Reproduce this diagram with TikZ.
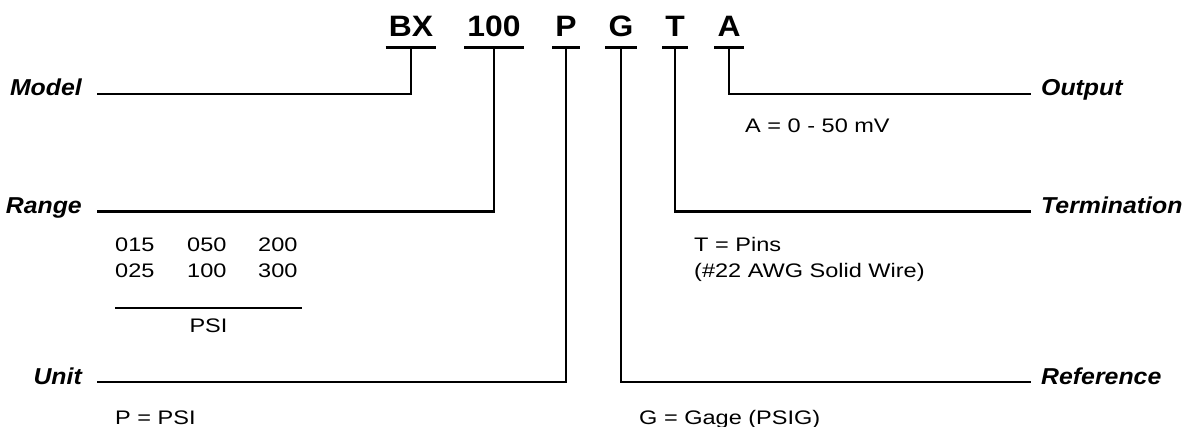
\documentclass[tikz,border=0pt]{standalone}
\usepackage{fontspec}
\setmainfont[FakeStretch=1.08]{Liberation Sans}
\newfontfamily\infofont[FakeStretch=1.2]{Liberation Sans}
\usepackage{tikz}
\usetikzlibrary{positioning}

\begin{document}
\begin{tikzpicture}[x=1pt, y=-1pt,
                    code/.style={font=\fontsize{29.5}{34}\selectfont\bfseries, inner xsep=3pt, inner ysep=10pt, text depth=0pt, anchor=base},
                    lbl/.style={font=\fontsize{23}{27}\selectfont\bfseries\itshape, inner sep=0pt},
                    info/.style={font=\infofont\fontsize{19.6}{24}\selectfont, inner sep=0pt, anchor=base west},
                    lead/.style={line width=2.8pt, black},
                    rule/.style={line width=1.3pt, black},
                   ]

\useasboundingbox (0,0) rectangle (1185,427);

% code letters
\node[code] (codeBX)  at (411,37) {BX};
\node[code] (code100) at (494,37) {100};
\node[code] (codeP)   at (566,37) {P};
\node[code] (codeG)   at (621,37) {G};
\node[code] (codeT)   at (675,37) {T};
\node[code] (codeA)   at (729,37) {A};

\foreach \c in {BX,100,P,G,T,A}
  \draw[lead] (code\c.south west) -- (code\c.south east);

% left labels
\node[lbl, anchor=base east] (lblModel) at (82,96) {Model};
\node[lbl, anchor=base east] (lblRange) at (82,213.5) {Range};
\node[lbl, anchor=base east] (lblUnit)  at (82,384) {Unit};

% right labels
\node[lbl, anchor=base west] (lblOutput) at (1041,96) {Output};
\node[lbl, anchor=base west] (lblTerm)   at (1041,213.5) {Termination};
\node[lbl, anchor=base west] (lblRef)    at (1041,384) {Reference};

\draw[lead] ([xshift=15pt,yshift=2pt]lblModel.base east) -| (codeBX.south);
\draw[lead] ([xshift=15pt,yshift=2pt]lblRange.base east) -| (code100.south);
\draw[lead] ([xshift=15pt,yshift=2pt]lblUnit.base east) -| (codeP.south);

\draw[lead] (codeA.south) |- ([xshift=-10pt,yshift=2pt]lblOutput.base west);
\draw[lead] (codeT.south) |- ([xshift=-10pt,yshift=2pt]lblTerm.base west);
\draw[lead] (codeG.south) |- ([xshift=-10pt,yshift=2pt]lblRef.base west);

% range table
\node[info] (r015) at (115,252) {015};
\node[info] (r050) at (187,252) {050};
\node[info] (r200) at (258,252) {200};
\node[info] (r025) at (115,278) {025};
\node[info] (r100) at (187,278) {100};
\node[info] (r300) at (258,278) {300};

\coordinate (ruleL) at (115,308);
\coordinate (ruleR) at (302,308);
\draw[rule] (ruleL) -- (ruleR);
\node[info, anchor=base] (psi) at (208.5,333) {PSI};

% option texts
\node[info] (optA) at (745,133) {A = 0 - 50 mV};
\node[info] (optT) at (694,252) {T = Pins};
\node[info] (optW) at (694,278) {(\#22 AWG Solid Wire)};
\node[info] (optP) at (115,424) {P = PSI};
\node[info] (optG) at (639,424) {G = Gage (PSIG)};

\end{tikzpicture}
\end{document}
